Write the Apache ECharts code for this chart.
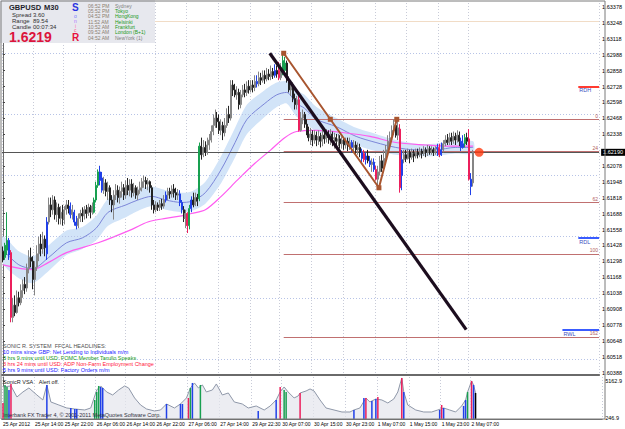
<!DOCTYPE html>
<html><head><meta charset="utf-8">
<script src="https://cdn.jsdelivr.net/npm/echarts@6/dist/echarts.min.js"></script>
<style>html,body{margin:0;padding:0;background:#fff}#c{width:625px;height:429px}</style>
</head><body><div id="c"></div>
<script>
// ---------------- DATA ----------------
const timeLabels = ['25 Apr 2012','25 Apr 14:00','25 Apr 22:00','26 Apr 06:00','26 Apr 14:00','26 Apr 22:00','27 Apr 06:00','27 Apr 14:00','29 Apr 22:30','30 Apr 07:00','30 Apr 15:00','30 Apr 23:00','1 May 07:00','1 May 15:00','1 May 23:00','2 May 07:00'];
const timeLabelBars = [0,16,31,47,62,77,93,109,125,140,156,172,188,204,220,235];

const open = [1.6138,1.6133,1.6139,1.6147,1.6137,1.6084,1.6094,1.6088,1.6100,1.6096,
1.6106,1.6111,1.6108,1.6124,1.6133,1.6130,1.6115,1.6125,1.6136,1.6144,
1.6140,1.6148,1.6136,1.6162,1.6176,1.6172,1.6180,1.6168,1.6174,1.6165,
1.6170,1.6164,1.6172,1.6176,1.6175,1.6168,1.6170,1.6162,1.6159,1.6165,
1.6169,1.6167,1.6172,1.6169,1.6174,1.6170,1.6170,1.6180,1.6192,1.6203,
1.6198,1.6188,1.6194,1.6187,1.6190,1.6180,1.6176,1.6184,1.6188,1.6182,
1.6187,1.6190,1.6184,1.6192,1.6188,1.6193,1.6186,1.6190,1.6184,1.6188,
1.6190,1.6195,1.6196,1.6193,1.6195,1.6190,1.6176,1.6172,1.6176,1.6174,
1.6177,1.6175,1.6180,1.6184,1.6187,1.6185,1.6189,1.6186,1.6184,1.6185,
1.6178,1.6172,1.6165,1.6169,1.6159,1.6173,1.6180,1.6176,1.6182,1.6181,
1.6224,1.6217,1.6223,1.6219,1.6225,1.6229,1.6236,1.6241,1.6247,1.6244,
1.6237,1.6241,1.6235,1.6241,1.6250,1.6247,1.6274,1.6270,1.6266,1.6268,
1.6258,1.6266,1.6270,1.6268,1.6273,1.6270,1.6274,1.6272,1.6277,1.6275,
1.6280,1.6278,1.6282,1.6279,1.6283,1.6281,1.6285,1.6282,1.6286,1.6286,
1.6280,1.6284,1.6286,1.6292,1.6278,1.6270,1.6274,1.6263,1.6258,1.6262,
1.6237,1.6247,1.6250,1.6242,1.6237,1.6231,1.6234,1.6229,1.6233,1.6229,
1.6232,1.6228,1.6233,1.6230,1.6234,1.6231,1.6234,1.6230,1.6231,1.6228,
1.6230,1.6226,1.6229,1.6225,1.6228,1.6224,1.6227,1.6223,1.6225,1.6221,
1.6223,1.6219,1.6218,1.6213,1.6216,1.6212,1.6209,1.6211,1.6205,1.6197,
1.6203,1.6212,1.6206,1.6214,1.6221,1.6228,1.6231,1.6237,1.6241,1.6233,
1.6238,1.6200,1.6213,1.6217,1.6214,1.6219,1.6215,1.6218,1.6216,1.6219,
1.6217,1.6220,1.6218,1.6221,1.6219,1.6222,1.6220,1.6221,1.6219,1.6222,
1.6223,1.6217,1.6221,1.6226,1.6229,1.6227,1.6231,1.6228,1.6232,1.6229,
1.6233,1.6228,1.6223,1.6226,1.6231,1.6230,1.6197,1.6194];

const high = [1.6142,1.6145,1.6170,1.6149,1.6139,1.6100,1.6102,1.6106,1.6105,1.6111,
1.6115,1.6117,1.6128,1.6139,1.6141,1.6134,1.6130,1.6143,1.6150,1.6152,
1.6154,1.6151,1.6166,1.6182,1.6182,1.6184,1.6183,1.6178,1.6177,1.6175,
1.6176,1.6175,1.6180,1.6180,1.6178,1.6176,1.6172,1.6167,1.6169,1.6172,
1.6174,1.6175,1.6176,1.6177,1.6176,1.6178,1.6182,1.6195,1.6205,1.6208,
1.6203,1.6199,1.6197,1.6195,1.6192,1.6184,1.6188,1.6193,1.6192,1.6191,
1.6195,1.6193,1.6196,1.6198,1.6197,1.6197,1.6194,1.6192,1.6191,1.6195,
1.6198,1.6200,1.6199,1.6198,1.6196,1.6192,1.6180,1.6179,1.6178,1.6180,
1.6181,1.6184,1.6187,1.6190,1.6190,1.6192,1.6193,1.6190,1.6189,1.6188,
1.6180,1.6175,1.6172,1.6170,1.6176,1.6183,1.6186,1.6186,1.6185,1.6227,
1.6231,1.6229,1.6228,1.6231,1.6234,1.6241,1.6250,1.6254,1.6252,1.6250,
1.6246,1.6244,1.6247,1.6255,1.6257,1.6278,1.6278,1.6275,1.6273,1.6271,
1.6270,1.6274,1.6275,1.6277,1.6278,1.6278,1.6278,1.6282,1.6282,1.6285,
1.6284,1.6286,1.6286,1.6288,1.6287,1.6290,1.6288,1.6291,1.6290,1.6293,
1.6292,1.6300,1.6297,1.6294,1.6281,1.6278,1.6276,1.6267,1.6265,1.6265,
1.6252,1.6254,1.6252,1.6246,1.6240,1.6239,1.6237,1.6237,1.6236,1.6237,
1.6235,1.6238,1.6237,1.6238,1.6237,1.6238,1.6236,1.6235,1.6234,1.6234,
1.6233,1.6232,1.6231,1.6231,1.6231,1.6231,1.6229,1.6229,1.6228,1.6227,
1.6226,1.6222,1.6221,1.6219,1.6221,1.6216,1.6214,1.6214,1.6208,1.6208,
1.6216,1.6217,1.6221,1.6225,1.6233,1.6236,1.6241,1.6246,1.6247,1.6246,
1.6242,1.6221,1.6221,1.6221,1.6222,1.6221,1.6222,1.6221,1.6222,1.6222,
1.6223,1.6222,1.6224,1.6223,1.6225,1.6224,1.6224,1.6223,1.6224,1.6226,
1.6226,1.6227,1.6229,1.6233,1.6234,1.6235,1.6235,1.6236,1.6235,1.6237,
1.6236,1.6231,1.6233,1.6234,1.6235,1.6238,1.6202,1.6221];

const low = [1.6129,1.6131,1.6135,1.6131,1.6080,1.6080,1.6085,1.6087,1.6093,1.6094,
1.6100,1.6103,1.6105,1.6120,1.6125,1.6107,1.6102,1.6122,1.6130,1.6134,
1.6136,1.6134,1.6131,1.6160,1.6166,1.6168,1.6164,1.6162,1.6160,1.6160,
1.6159,1.6160,1.6168,1.6169,1.6165,1.6164,1.6159,1.6156,1.6157,1.6162,
1.6162,1.6164,1.6165,1.6167,1.6165,1.6168,1.6169,1.6178,1.6190,1.6192,
1.6186,1.6185,1.6183,1.6180,1.6176,1.6170,1.6164,1.6180,1.6178,1.6177,
1.6182,1.6180,1.6181,1.6184,1.6183,1.6182,1.6183,1.6181,1.6180,1.6185,
1.6187,1.6190,1.6189,1.6188,1.6186,1.6172,1.6169,1.6170,1.6171,1.6171,
1.6172,1.6173,1.6178,1.6180,1.6181,1.6182,1.6182,1.6180,1.6180,1.6175,
1.6169,1.6162,1.6157,1.6153,1.6156,1.6170,1.6174,1.6175,1.6175,1.6179,
1.6213,1.6215,1.6216,1.6217,1.6221,1.6227,1.6233,1.6239,1.6239,1.6234,
1.6233,1.6229,1.6232,1.6239,1.6243,1.6245,1.6265,1.6264,1.6262,1.6254,
1.6255,1.6264,1.6264,1.6265,1.6267,1.6268,1.6268,1.6269,1.6272,1.6273,
1.6274,1.6276,1.6275,1.6277,1.6278,1.6278,1.6279,1.6280,1.6280,1.6278,
1.6278,1.6282,1.6284,1.6276,1.6268,1.6265,1.6260,1.6254,1.6254,1.6236,
1.6236,1.6242,1.6239,1.6233,1.6228,1.6225,1.6224,1.6226,1.6224,1.6225,
1.6223,1.6224,1.6226,1.6227,1.6226,1.6225,1.6224,1.6222,1.6224,1.6224,
1.6222,1.6222,1.6221,1.6222,1.6220,1.6221,1.6219,1.6219,1.6217,1.6217,
1.6215,1.6211,1.6211,1.6209,1.6210,1.6207,1.6203,1.6203,1.6196,1.6190,
1.6200,1.6203,1.6204,1.6211,1.6217,1.6223,1.6228,1.6233,1.6231,1.6229,
1.6186,1.6188,1.6210,1.6211,1.6213,1.6210,1.6213,1.6211,1.6214,1.6214,
1.6215,1.6214,1.6216,1.6215,1.6216,1.6217,1.6217,1.6216,1.6217,1.6216,
1.6215,1.6216,1.6219,1.6224,1.6225,1.6225,1.6225,1.6226,1.6225,1.6227,
1.6224,1.6220,1.6222,1.6223,1.6225,1.6196,1.6184,1.6191];

const close = [1.6131,1.6143,1.6147,1.6135,1.6084,1.6094,1.6088,1.6100,1.6096,1.6106,
1.6111,1.6108,1.6124,1.6133,1.6130,1.6115,1.6125,1.6136,1.6144,1.6140,
1.6148,1.6141,1.6162,1.6176,1.6172,1.6180,1.6168,1.6174,1.6165,1.6170,
1.6164,1.6172,1.6176,1.6173,1.6168,1.6172,1.6162,1.6159,1.6165,1.6169,
1.6167,1.6172,1.6169,1.6174,1.6170,1.6175,1.6180,1.6192,1.6203,1.6196,
1.6188,1.6194,1.6187,1.6190,1.6180,1.6176,1.6184,1.6188,1.6182,1.6187,
1.6190,1.6184,1.6192,1.6188,1.6193,1.6186,1.6190,1.6184,1.6188,1.6190,
1.6195,1.6196,1.6193,1.6195,1.6190,1.6176,1.6172,1.6176,1.6174,1.6177,
1.6175,1.6180,1.6184,1.6187,1.6185,1.6189,1.6186,1.6184,1.6185,1.6178,
1.6172,1.6165,1.6169,1.6159,1.6173,1.6180,1.6176,1.6182,1.6179,1.6224,
1.6217,1.6223,1.6219,1.6225,1.6229,1.6236,1.6241,1.6247,1.6244,1.6237,
1.6241,1.6235,1.6241,1.6250,1.6247,1.6274,1.6270,1.6266,1.6268,1.6258,
1.6266,1.6270,1.6268,1.6273,1.6270,1.6274,1.6272,1.6277,1.6275,1.6280,
1.6278,1.6282,1.6279,1.6283,1.6281,1.6285,1.6282,1.6286,1.6283,1.6280,
1.6288,1.6294,1.6292,1.6278,1.6270,1.6274,1.6263,1.6258,1.6262,1.6237,
1.6247,1.6250,1.6242,1.6237,1.6231,1.6234,1.6229,1.6233,1.6229,1.6232,
1.6228,1.6233,1.6230,1.6234,1.6231,1.6234,1.6230,1.6231,1.6228,1.6230,
1.6226,1.6229,1.6225,1.6228,1.6224,1.6227,1.6223,1.6225,1.6221,1.6223,
1.6219,1.6214,1.6213,1.6216,1.6212,1.6209,1.6211,1.6205,1.6197,1.6203,
1.6212,1.6206,1.6214,1.6221,1.6228,1.6231,1.6237,1.6241,1.6233,1.6239,
1.6190,1.6213,1.6217,1.6214,1.6219,1.6215,1.6218,1.6216,1.6219,1.6217,
1.6220,1.6218,1.6221,1.6219,1.6222,1.6220,1.6221,1.6219,1.6222,1.6223,
1.6217,1.6221,1.6226,1.6229,1.6227,1.6231,1.6228,1.6232,1.6229,1.6233,
1.6228,1.6223,1.6226,1.6231,1.6228,1.6197,1.6191,1.6219];

// VSA-coloured candles (bar indices)
const blueBars  = [3,22,34,36,37,49,50,82,89,90,95,128,137,176,181,183,185,187,201,219,221,231,232,236];
const greenBars = [1,2,46,47,48,94,99,141,142,233];
const redBars   = [4,93,139,149,182,188,200,220,235];

// moving average (blue) + its envelope band, sampled [bar, price]
const maIdx   = [0,8,15,23,32,40,47,53,62,68,75,82,90,95,102,110,117,123,132,138,143,148,152,158,168,178,188,198,208,218,228,237];
const maBlue  = [1.6139,1.6127,1.6124,1.6133,1.6145,1.6149,1.6157,1.6170,1.6176,1.6180,1.6183,1.6180,1.6178,1.6179,1.6186,1.6205,1.6227,1.6246,1.6259,1.6266,1.6268,1.6259,1.6255,1.6246,1.6240,1.6232,1.6227,1.6223,1.6221,1.6221,1.6223,1.6223];
const bandUp  = [1.6150,1.6138,1.6134,1.6143,1.6155,1.6158,1.6167,1.6181,1.6186,1.6189,1.6191,1.6188,1.6186,1.6187,1.6195,1.6216,1.6239,1.6258,1.6270,1.6276,1.6277,1.6270,1.6266,1.6256,1.6247,1.6239,1.6234,1.6229,1.6226,1.6226,1.6228,1.6228];
const bandLo  = [1.6128,1.6116,1.6112,1.6122,1.6135,1.6140,1.6147,1.6159,1.6166,1.6171,1.6175,1.6172,1.6170,1.6171,1.6177,1.6194,1.6215,1.6234,1.6248,1.6256,1.6259,1.6248,1.6244,1.6236,1.6233,1.6225,1.6220,1.6217,1.6216,1.6216,1.6218,1.6218];
// slower moving average (magenta)
const maPinkIdx = [0,15,23,32,48,65,73,82,90,95,102,110,118,127,135,142,148,158,172,185,198,213,225,237];
const maPink    = [1.6127,1.6123,1.6129,1.6137,1.6145,1.6156,1.6162,1.6165,1.6167,1.6169,1.6172,1.6183,1.6196,1.6210,1.6221,1.6231,1.6236,1.6237,1.6235,1.6232,1.6227,1.6225,1.6224,1.6224];

// price levels
const currentPrice = 1.6219;
const roundLevels = [1.6050,1.6100,1.6150,1.6200,1.6250,1.6300];
const fibHigh = 1.6246, fibLow = 1.6136, fibFromBar = 141.5;
const fibLevels = [0,23.6,61.8,100,161.8];
const fibLabels = ['0','24','62','100','162'];
const pivotNames = ['RDH','RDL','RWL'];
const pivotPrices = [1.6273,1.6149,1.6074];
const pivotFromBar = [290,290,282];
const weeklyLine = 1.6326;

// hand-drawn objects [bar, price]
const blackTrend = [[134.5,1.6300],[233.5,1.6074]];
const brownZigzag = [[141.5,1.6300],[165,1.6246],[189.5,1.6190],[198.5,1.6246]];
const markerDot = [[240,1.6219]];

// price-axis tick labels
const priceTicks = [1.63378,1.63248,1.63118,1.62988,1.62858,1.62728,1.62598,1.62468,1.62338,1.62078,1.61948,1.61818,1.61688,1.61558,1.61428,1.61298,1.61168,1.61038,1.60908,1.60778,1.60648,1.60518,1.60388];

// SonicR VSA sub-window
const vsaTicks = [246.9,5162.9];
const vsaLineIdx = [0,4,7,10,13,17,20,22,24,28,32,36,41,44,47,49,52,55,58,61,63,66,69,72,76,79,82,86,89,92,94,96,98,100,102,105,107,110,113,116,120,123,127,131,134,137,139,141,143,146,148,149,152,154,156,159,162,166,170,174,176,179,182,184,187,190,193,196,198,200,201,203,207,211,215,218,221,224,227,230,232,233,235,236,237];
const vsaLineVal = [4370,4503,3040,3705,4237,3306,2641,4636,2375,1976,1577,1444,1311,1577,3971,4503,3705,3306,3971,4503,4237,2907,1976,1444,1178,1311,2109,1577,2109,2907,4237,4902,4237,4636,3705,3971,4769,3306,3572,2375,2109,1577,1843,1311,1843,2641,3705,4370,3705,2907,3173,3572,3838,4104,3838,2641,1577,1311,1045,1045,1311,1577,2907,2375,2774,2641,2242,2774,3705,5567,3705,1976,1311,1045,1045,1311,1577,1311,1045,1843,2641,3705,5168,4636,3572];
const vsaBarIdx  = [0,1,2,3,4,22,34,36,37,46,47,48,49,50,82,89,90,93,94,95,99,128,137,139,141,142,149,176,181,182,185,187,188,200,201,219,220,221,231,232,233,235,236,237];
const vsaBarVal  = [2242,4636,4370,3971,4769,4636,1577,1444,1444,2641,3705,4503,4370,4237,2109,2109,2109,2907,4237,4902,4636,1178,2641,4370,3971,3705,3572,1311,2907,2907,2500,2774,3040,5567,3705,1311,1976,1577,1843,2641,3705,5168,4636,3572];
const vsaBarType = ['r','g','g','b','r','b','b','b','b','g','g','g','b','b','b','b','b','r','g','b','g','b','b','r','g','g','r','b','b','r','b','b','r','r','b','b','r','b','b','b','g','r','b','k'];

// overlay texts
const sessionTimes  = ['06:52 PM','05:52 PM','04:52 PM','11:52 AM','10:52 AM','09:52 AM','04:52 AM'];
const sessionCities = ['Sydney','Tokyo','HongKong','Helsinki','Frankfurt','London (B+1)','NewYork (1)'];
const headlines = ['10 mins since GBP: Net Lending to Individuals m/m','3 hrs 9 mins until USD: FOMC Member Tarullo Speaks','3 hrs 24 mins until USD: ADP Non-Farm Employment Change','5 hrs 9 mins until USD: Factory Orders m/m'];

// ---------------- BUILD ----------------
const N = 301;
const FONT = 'Liberation Sans, Arial, sans-serif';
const cats = Array.from({length:N}, () => '');
timeLabelBars.forEach((b,k) => { cats[b] = timeLabels[k]; });
const isLabel = (idx) => cats[idx] !== '';

const C = {b:'#2040e8', g:'#18a050', r:'#ec1f5c', k:'#000000'};
const typeOf = i => blueBars.includes(i) ? 'b' : greenBars.includes(i) ? 'g' : redBars.includes(i) ? 'r' : null;
const candleData = open.map((o,i) => {
  const it = {value:[o, close[i], low[i], high[i]]};
  const t = typeOf(i);
  if (t) it.itemStyle = {color:C[t], color0:C[t], borderColor:C[t], borderColor0:C[t]};
  return it;
});
const pairs = (xs, ys) => xs.map((x,k) => [x, ys[k]]);

const vsaBars = open.map(() => '-');
vsaBarIdx.forEach((b,k) => { vsaBars[b] = {value:vsaBarVal[k], itemStyle:{color:C[vsaBarType[k]]}}; });

const fibData = fibLevels.map((lv,k) => {
  const p = fibHigh - (fibHigh - fibLow) * lv / 100;
  return [{coord:[fibFromBar, p], label:{formatter:fibLabels[k]}}, {coord:[N-0.5, p]}];
});
const pivotData = pivotNames.map((nm,k) => [
  {coord:[pivotFromBar[k], pivotPrices[k]], label:{formatter:nm},
   lineStyle:{color: nm === 'RDH' ? '#ff3b30' : '#3a5cff', width:2, type:'solid'}},
  {coord:[N-0.5, pivotPrices[k]]}
]);

function txt(text, x, y, size, color, weight) {
  return {type:'text', x:x, y:y, z:100, silent:true,
    style:{text:text, fill:color, fontSize:size, fontFamily:FONT, fontWeight:weight||'normal', verticalAlign:'top'}};
}
const graphics = [
  {type:'rect', z:90, shape:{x:0,y:0,width:155,height:43}, style:{fill:'#e7e8ee'}},
  txt('GBPUSD', 9, 3, 7.5, '#1e1e2a', 'bold'), txt('M30', 44, 3, 7.5, '#1e1e2a', 'bold'),
  txt('Spread', 12, 11.5, 6, '#303030'), txt('3.60', 33, 11.5, 6, '#303030'),
  txt('Range', 12, 17.5, 6, '#303030'), txt('89.54', 33, 17.5, 6, '#303030'),
  txt('Candle', 12, 23.5, 6, '#303030'), txt('00:07:34', 33, 23.5, 6, '#303030'),
  txt('1.6219', 9, 30, 14, '#dc143c', 'bold'),
  txt('S', 72, 2, 10, '#2a34e0', 'bold'),
  txt('o', 74, 13, 5, '#7a7aff'), txt('n', 74, 18.5, 5, '#b070ff'),
  txt('i', 75, 23.5, 5, '#ff70c0'), txt('c', 74, 27.5, 5, '#ff5a8a'),
  txt('R', 72, 32, 10, '#e8103c', 'bold'),
  txt('SONIC R. SYSTEM  FFCAL HEADLINES:', 3, 342.5, 5.5, '#505050'),
  txt('SonicR VSA    Alert off.', 3, 378.5, 5.5, '#202020'),
  txt('Interbank FX Trader 4, \u00a9 2001-2011 MetaQuotes Software Corp.', 3, 411.5, 5.5, '#303040'),
  {type:'rect', z:95, silent:true, shape:{x:1,y:1,width:604,height:418}, style:{fill:'none', stroke:'#7a7a7a', lineWidth:1}}
];
const hlColors = ['#2020ff','#1a9a1a','#ff2040','#2020ff'];
headlines.forEach((h,k) => graphics.push(txt(h, 3, 348.5 + k*6, 5.5, hlColors[k])));
const cityColors = ['#808080','#1a9a1a','#1a9a1a','#1a9a1a','#1a9a1a','#1a9a1a','#808080'];
sessionTimes.forEach((t,k) => {
  graphics.push(txt(t, 88, 3.2 + k*5.3, 5, '#8a7e70'));
  graphics.push(txt(sessionCities[k], 115, 3.2 + k*5.3, 5, cityColors[k]));
});

const gridSplit = {show:true, interval:(i) => isLabel(i), lineStyle:{color:'#c8cbd8', type:[1,2], width:1}};

const option = {
  animation:false,
  backgroundColor:'#ffffff',
  textStyle:{fontFamily:FONT},
  grid:[
    {left:2, right:20, top:3, height:372},
    {left:2, right:20, top:377, height:42}
  ],
  xAxis:[
    {type:'category', gridIndex:0, data:cats, boundaryGap:true,
     axisLabel:{show:false}, axisTick:{show:false},
     axisLine:{show:true, lineStyle:{color:'#6a6a6a', width:2}}, splitLine:gridSplit},
    {type:'value', gridIndex:0, min:-0.5, max:N-0.5, show:false},
    {type:'category', gridIndex:1, data:cats, boundaryGap:true,
     axisLabel:{interval:(i) => isLabel(i), align:'left', fontSize:5, color:'#000', margin:2.5, fontFamily:FONT},
     axisTick:{interval:(i) => isLabel(i), alignWithLabel:true, length:2, lineStyle:{color:'#444'}},
     axisLine:{show:true, lineStyle:{color:'#6a6a6a', width:1}}, splitLine:gridSplit},
    {type:'value', gridIndex:1, min:-0.5, max:N-0.5, show:false}
  ],
  yAxis:[
    {type:'value', gridIndex:0, position:'right', min:1.60369, max:1.63411, scale:true,
     axisLine:{show:true, lineStyle:{color:'#6a6a6a', width:1}},
     axisTick:{show:true, length:2, customValues:priceTicks, lineStyle:{color:'#444'}},
     axisLabel:{customValues:priceTicks, formatter:(v) => v.toFixed(5), fontSize:5.5, color:'#000', margin:3, fontFamily:FONT},
     splitLine:{show:false}},
    {type:'value', gridIndex:1, position:'right', min:114, max:5694,
     axisLine:{show:true, lineStyle:{color:'#6a6a6a', width:1}},
     axisTick:{show:true, length:2, customValues:vsaTicks, lineStyle:{color:'#444'}},
     axisLabel:{customValues:vsaTicks, formatter:(v) => v.toFixed(1), fontSize:5.5, color:'#000', margin:3, fontFamily:FONT},
     splitLine:{show:false}}
  ],
  series:[
    {type:'custom', xAxisIndex:1, yAxisIndex:0, z:1, silent:true, data:[[0, maBlue[0]]],
     renderItem:(params, api) => {
       const pts = [];
       maIdx.forEach((x,k) => pts.push(api.coord([x, bandUp[k]])));
       for (let k = maIdx.length-1; k >= 0; k--) pts.push(api.coord([maIdx[k], bandLo[k]]));
       return {type:'polygon', shape:{points:pts, smooth:0.25}, style:{fill:'#d2e4f8'}};
     }},
    {type:'line', name:'levels', xAxisIndex:1, yAxisIndex:0, z:2, silent:true, data:[],
     markLine:{silent:true, symbol:'none', animation:false, precision:5, label:{show:false},
       data:[
         ...roundLevels.map(v => ({yAxis:v, lineStyle:{color:'#b7c3e6', type:[1,2], width:1}})),
         {yAxis:weeklyLine, lineStyle:{color:'#f1dcc6', type:'solid', width:1}}
       ]}},
    {type:'line', name:'fib', xAxisIndex:1, yAxisIndex:0, z:3, silent:true, data:[],
     markLine:{silent:true, symbol:'none', animation:false, precision:5,
       lineStyle:{color:'#c07070', type:'solid', width:1},
       label:{show:true, position:'insideEndTop', fontSize:5, color:'#b06060', distance:1, fontFamily:FONT},
       data:fibData}},
    {type:'line', name:'pivots', xAxisIndex:1, yAxisIndex:0, z:3, silent:true, data:[],
     markLine:{silent:true, symbol:'none', animation:false, precision:5,
       lineStyle:{type:'solid'},
       label:{show:true, position:'insideStartBottom', fontSize:5.5, color:'#3a4cc0', distance:1, fontFamily:FONT},
       data:pivotData}},
    {type:'line', name:'MA fast', xAxisIndex:1, yAxisIndex:0, z:4, silent:true,
     data:pairs(maIdx, maBlue), showSymbol:false, smooth:0.3, lineStyle:{color:'#7c86d8', width:1},
     markLine:{silent:true, symbol:'none', animation:false, precision:5,
       lineStyle:{color:'#555555', type:'solid', width:1},
       label:{show:true, position:'end', formatter:'1.62190', backgroundColor:'#000', color:'#fff',
              fontSize:5.5, padding:[1,2,0,2], distance:2, fontFamily:FONT},
       data:[{yAxis:currentPrice}]}},
    {type:'line', name:'MA slow', xAxisIndex:1, yAxisIndex:0, z:4, silent:true,
     data:pairs(maPinkIdx, maPink), showSymbol:false, smooth:0.3, lineStyle:{color:'#ff5cf0', width:1.2}},
    {type:'candlestick', xAxisIndex:0, yAxisIndex:0, z:5, barWidth:1.5, data:candleData,
     itemStyle:{color:'#a0a0a0', color0:'#222222', borderColor:'#858585', borderColor0:'#222222', borderWidth:1}},
    {type:'line', name:'trend', xAxisIndex:1, yAxisIndex:0, z:7, silent:true,
     data:blackTrend, showSymbol:false, lineStyle:{color:'#1c0d1e', width:3.2}},
    {type:'line', name:'zigzag', xAxisIndex:1, yAxisIndex:0, z:8, silent:true,
     data:brownZigzag, symbol:'rect', symbolSize:5, showSymbol:true,
     lineStyle:{color:'#a8552f', width:2}, itemStyle:{color:'#a8552f'}},
    {type:'scatter', xAxisIndex:1, yAxisIndex:0, z:9, silent:true,
     data:markerDot, symbolSize:9, itemStyle:{color:'#ff3b10'}},
    {type:'line', name:'VSA', xAxisIndex:3, yAxisIndex:1, z:2, silent:true,
     data:pairs(vsaLineIdx, vsaLineVal), showSymbol:false,
     lineStyle:{color:'#8e97a8', width:1}, areaStyle:{color:'#e4e6ec', origin:'start'}},
    {type:'bar', xAxisIndex:2, yAxisIndex:1, z:3, silent:true, barWidth:1.5, data:vsaBars}
  ],
  graphic:graphics
};

const chart = echarts.init(document.getElementById('c'), null, {renderer:'svg', width:625, height:429});
chart.setOption(option);
</script>
</body></html>
